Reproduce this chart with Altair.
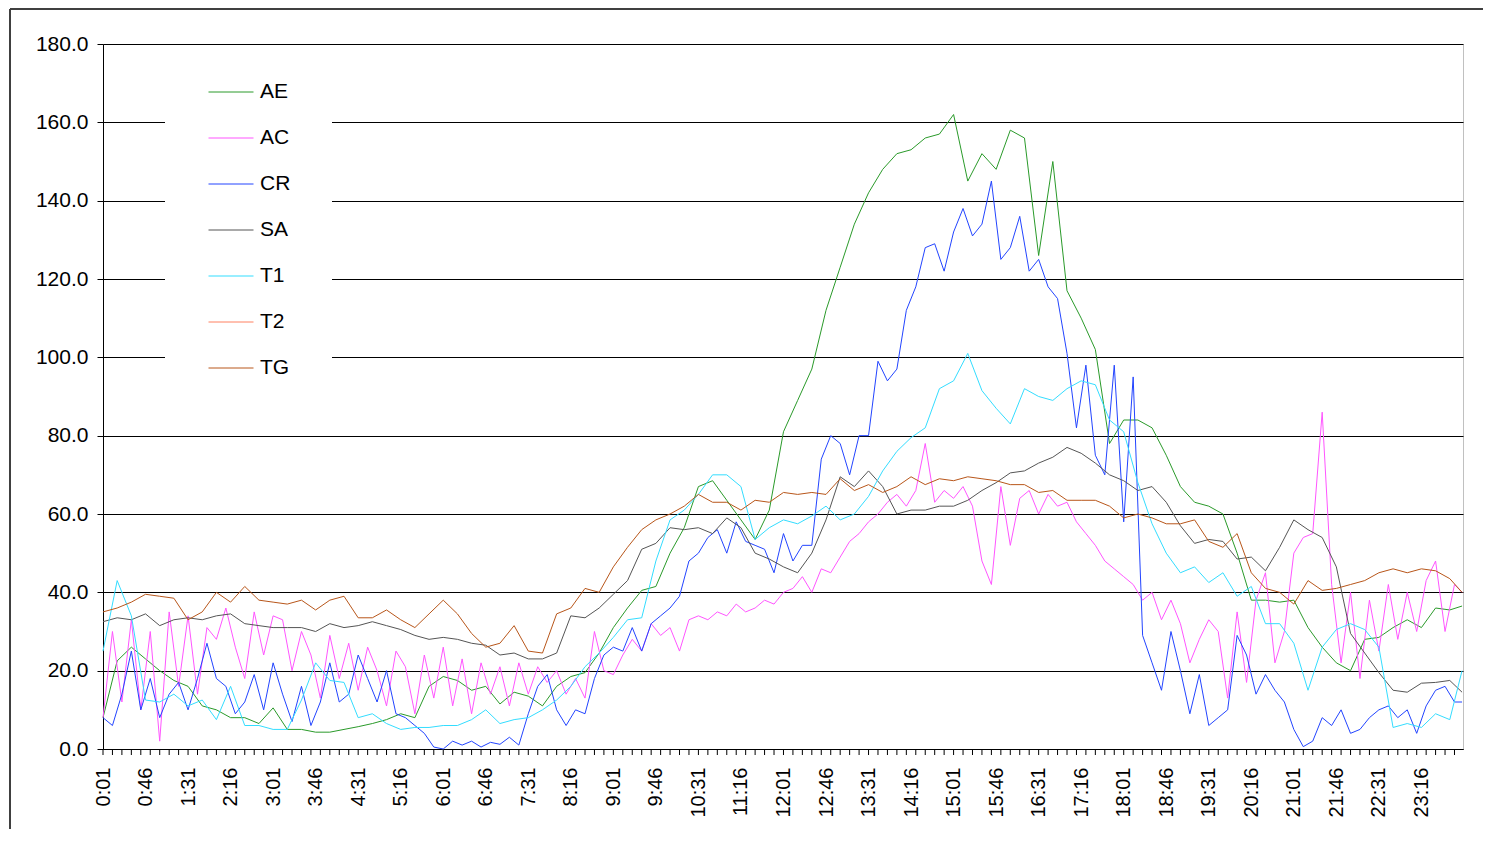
import altair as alt
import pandas as pd

SERIES = ["AE", "AC", "CR", "SA", "T1", "T2", "TG"]
COLORS = ["#2A9A2A", "#FF55FF", "#2244FF", "#555555", "#33DDFF", "#FF8060", "#B8561A"]

# sampling grids (minutes after midnight)
MIN_15 = list(range(1, 1440, 15)) + [1439]
MIN_10 = list(range(1, 1440, 10)) + [1439]
LABEL_MINUTES = list(range(1, 1440, 45))
TICK_MINUTES = list(range(1, 1441, 10))

AE = [8, 22.5, 26, 23, 20, 17.5, 16, 11, 10, 8,
      8, 6.5, 10.5, 5, 5, 4.3, 4.3, 5, 5.7, 6.5,
      7.5, 9, 8, 16, 18.5, 17.5, 15, 16, 11.5, 14.5,
      13.5, 11, 16, 18.5, 19.5, 24.5, 31, 36, 40.5, 41.5,
      50, 56.5, 67, 68.5, 63.5, 58.5, 53.5, 61, 81, 89,
      97, 112, 123, 134, 142, 148, 152, 153, 156, 157,
      162, 145, 152, 148, 158, 156, 126, 150, 117, 110,
      102, 78, 84, 84, 82, 75, 67, 63, 62, 60,
      50, 38, 38, 37.5, 38, 31, 26, 22, 20, 28,
      28.5, 31, 33, 31, 36, 35.5, 36.5]

SA = [32.5, 33.5, 33, 34.5, 31.5, 33, 33.5, 33, 34, 34.5,
      32, 31.5, 31, 31, 31, 30, 32, 31, 31.5, 32.5,
      31.5, 30.5, 29, 28, 28.5, 28, 27, 26.5, 24, 24.5,
      23, 23, 24.5, 34, 33.5, 36, 39.5, 43, 51, 52.5,
      56.5, 56, 56.5, 55, 59, 56.5, 50, 48.5, 46.5, 45,
      50, 58.5, 69.5, 67, 71, 67, 60, 61, 61, 62,
      62, 63.5, 66, 68, 70.5, 71, 73, 74.5, 77, 75.5,
      73, 70, 68.5, 66, 67, 63, 57, 52.5, 53.5, 53,
      48.5, 49, 45.5, 51.5, 58.5, 56, 54, 46.5, 29.5, 24.5,
      19.5, 15, 14.5, 16.8, 17, 17.5, 14.5]

T1 = [25, 43, 34, 12.5, 12, 14, 11, 12.5, 7.5, 16,
      6, 6, 5, 5, 12.5, 22, 17.5, 17, 8, 9,
      6.5, 5, 5.5, 5.5, 6, 6, 7.5, 10, 6.5, 7.5,
      8, 10, 12.5, 16, 21, 24.5, 28.5, 33, 33.5, 48,
      58.5, 61, 65, 70, 70, 67, 53.5, 56.5, 58.5, 57.5,
      59.5, 62, 58.5, 60, 64.5, 71, 76, 79.5, 82, 92,
      94, 101, 91.5, 87, 83, 92, 90, 89, 92, 94,
      93, 84, 81, 68, 57.5, 50, 45, 46.5, 42.5, 45,
      39, 41.5, 32, 32, 27, 15, 26, 30.5, 32, 30.5,
      26, 5.5, 6.5, 5.5, 9, 7.5, 20]

TG = [35, 36, 37.5, 39.5, 39, 38.5, 33, 35, 40, 37.5,
      41.5, 38, 37.5, 37, 38, 35.5, 38, 39, 33.5, 33.5,
      35.5, 33, 31, 34.5, 38, 34.5, 29.5, 26, 27, 31.5,
      25, 24.5, 34.5, 36, 41, 40, 46.5, 51.5, 56, 58.5,
      60, 62, 65, 63, 63, 61, 63.5, 63, 65.5, 65,
      65.5, 65, 69, 66, 67.5, 65.5, 67, 69.5, 67.5, 69,
      68.5, 69.5, 69, 68.5, 67.5, 67.5, 65.5, 66, 63.5, 63.5,
      63.5, 62, 59, 60, 59, 57.5, 57.5, 58.5, 53, 51.5,
      55, 45, 41, 40, 37, 43, 40.5, 41, 42, 43,
      45, 46, 45, 46, 45.5, 43.5, 40]

AC = [8, 30, 12, 33, 10, 30, 2, 35, 16, 34,
      14, 31, 28, 36, 26, 18, 35, 24, 34, 33,
      20, 30, 24, 13, 29, 18, 27, 15, 26, 20,
      11, 25, 21, 9, 24, 13, 26, 11, 23, 9,
      22, 14, 21, 11, 22, 14, 21, 17, 20, 14,
      18, 13, 30, 20, 19, 24, 28, 25, 32, 29,
      31, 25, 33, 34, 33, 35, 34, 37, 35, 36,
      38, 37, 40, 41, 44, 40, 46, 45, 49, 53,
      55, 58, 60, 63, 65, 62, 66, 78, 63, 66,
      64, 67, 62, 48, 42, 67, 52, 64, 66, 60,
      65, 62, 63, 58, 55, 52, 48, 46, 44, 42,
      38, 40, 33, 38, 32, 22, 28, 33, 30, 13,
      35, 17, 38, 45, 22, 30, 50, 54, 55, 86,
      42, 22, 40, 18, 38, 25, 42, 28, 40, 30,
      43, 48, 30, 42, 40]

CR = [8, 6, 14, 25, 10, 18, 8, 14, 17, 10,
      18, 27, 18, 16, 9, 12, 19, 10, 22, 14,
      7, 16, 6, 12, 22, 12, 14, 24, 18, 12,
      20, 9, 8, 6, 4, 0.5, 0, 2, 1, 2,
      0.5, 1.7, 1.2, 3, 1, 9, 16, 19, 10, 6,
      10, 9, 18, 24, 26, 25, 31, 25, 32, 34,
      36, 39, 48, 50, 54, 56, 50, 58, 53, 52,
      51, 45, 55, 48, 52, 52, 74, 80, 78, 70,
      80, 80, 99, 94, 97, 112, 118, 128, 129, 122,
      132, 138, 131, 134, 145, 125, 128, 136, 122, 125,
      118, 115, 101, 82, 98, 75, 70, 98, 58, 95,
      29, 22, 15, 30, 20, 9, 19, 6, 8, 10,
      29, 24, 14, 19, 15, 12, 5, 0.6, 2, 8,
      6, 10, 4, 5, 8, 10, 11, 8, 10, 4,
      11, 15, 16, 12, 12]

for arr in (AE, SA, T1, TG):
    assert len(arr) == len(MIN_15), len(arr)
for arr in (AC, CR):
    assert len(arr) == len(MIN_10), len(arr)

rows = []
for name, vals, grid in [("AE", AE, MIN_15), ("AC", AC, MIN_10), ("CR", CR, MIN_10),
                         ("SA", SA, MIN_15), ("T1", T1, MIN_15), ("TG", TG, MIN_15)]:
    for m, v in zip(grid, vals):
        rows.append({"minute": m, "series": name, "value": v})
df = pd.DataFrame(rows)

FONT = "Liberation Sans"
W, H = 1360, 705

label_expr = ("floor(datum.value / 60) + ':' + (datum.value % 60 < 10 ? '0' : '') + (datum.value % 60)")

X = alt.X("minute:Q",
          scale=alt.Scale(domain=[1, 1440], nice=False, zero=False),
          axis=alt.Axis(values=LABEL_MINUTES, labelExpr=label_expr, labelAngle=-90,
                        labelFontSize=20, labelFont=FONT, labelColor="black",
                        ticks=False, tickSize=0, labelPadding=18, domainColor="black",
                        grid=False, title=None, labelOverlap=False, labelFlush=False))

Y = alt.Y("value:Q",
          scale=alt.Scale(domain=[0, 180], nice=False),
          axis=alt.Axis(values=list(range(0, 181, 20)), format=".1f", grid=True,
                        gridColor="black", gridWidth=1, gridOpacity=1,
                        domainColor="black", tickColor="black", tickSize=6,
                        labelFontSize=21, labelFont=FONT, labelColor="black",
                        labelPadding=9, title=None))

lines = alt.Chart(df).mark_line(strokeWidth=1, interpolate="linear").encode(
    x=X, y=Y,
    color=alt.Color("series:N",
                    scale=alt.Scale(domain=SERIES, range=COLORS),
                    legend=alt.Legend(orient="none", legendX=105, legendY=25, title=None,
                                      symbolType="stroke", symbolSize=2025,
                                      symbolStrokeWidth=1, labelFontSize=21,
                                      labelFont=FONT, labelOffset=6, rowPadding=13,
                                      padding=0, labelColor="black")),
)

ticks = alt.Chart(pd.DataFrame({"minute": TICK_MINUTES})).mark_rule(
    color="black", strokeWidth=1).encode(
    x=X, y=alt.value(H), y2=alt.value(H + 6))

one = pd.DataFrame({"a": [0]})
legend_bg = alt.Chart(one).mark_rect(color="white").encode(
    x=alt.value(62), x2=alt.value(229), y=alt.value(26), y2=alt.value(344))

border_top = alt.Chart(one).mark_rule(color="#404040", strokeWidth=2).encode(
    x=alt.value(-93), x2=alt.value(W + 40), y=alt.value(-35))
border_left = alt.Chart(one).mark_rule(color="#404040", strokeWidth=2).encode(
    x=alt.value(-93), y=alt.value(-35), y2=alt.value(H + 120))

chart = alt.layer(legend_bg, border_top, border_left, ticks, lines).properties(
    width=W, height=H,
    autosize=alt.AutoSizeParams(type="none"),
    padding={"left": 95, "top": 36, "right": 20, "bottom": 80},
    background="white",
).configure_view(stroke="#c0c0c0", strokeWidth=1)

chart.save("out.html", embed_options={"renderer": "svg", "actions": False})
